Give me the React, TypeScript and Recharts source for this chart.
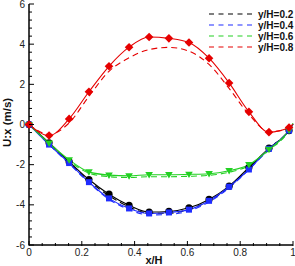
import { LineChart, Line, XAxis, YAxis } from "recharts";

// x/H stations (last one only carries the curves to the wall, no marker)
const X_POS = [0, 0.076, 0.152, 0.227, 0.303, 0.379, 0.455, 0.53, 0.606, 0.682, 0.758, 0.833, 0.909, 0.985, 1];
const MARKED = 14;

const H02_SOLID = [0, -0.91, -1.85, -2.74, -3.47, -4.02, -4.36, -4.33, -4.15, -3.73, -3.07, -2.14, -1.18, -0.3, 0.02];
const H02_DASH = [0, -0.95, -1.9, -2.8, -3.55, -4.1, -4.42, -4.42, -4.22, -3.8, -3.12, -2.18, -1.2, -0.28, 0.02];
const H04_SOLID = [0, -1.0, -1.92, -2.87, -3.68, -4.18, -4.43, -4.38, -4.24, -3.8, -3.1, -2.24, -1.21, -0.3, 0.02];
const H04_DASH = [0, -1.0, -1.95, -2.9, -3.72, -4.24, -4.5, -4.48, -4.3, -3.86, -3.15, -2.25, -1.22, -0.28, 0.02];
const H06_SOLID = [0, -0.93, -1.76, -2.36, -2.52, -2.56, -2.5, -2.5, -2.48, -2.45, -2.3, -2.0, -1.24, -0.28, 0.05];
const H06_DASH = [0, -0.95, -1.82, -2.42, -2.6, -2.64, -2.6, -2.6, -2.58, -2.53, -2.38, -2.05, -1.28, -0.3, 0.05];
const H08_SOLID = [0, -0.55, 0.28, 1.63, 2.9, 3.85, 4.36, 4.29, 4.08, 3.3, 2.07, 0.63, -0.38, -0.15, 0.02];
const H08_DASH = [0, -0.5, 0.08, 1.4, 2.65, 3.32, 3.73, 3.84, 3.65, 2.99, 1.8, 0.5, -0.35, -0.2, 0.02];

const LEGEND_NAMES = ["y/H=0.2", "y/H=0.4", "y/H=0.6", "y/H=0.8"];
const COLORS = ["#000000", "#1f2cff", "#22d022", "#e60000"];
const MARKERS = ["circle", "square", "triangle", "diamond"];

const X_LABELS = [0, 0.2, 0.4, 0.6, 0.8, 1];
const Y_LABELS = [-6, -4, -2, 0, 2, 4, 6];
const X_MINOR = Array.from({ length: 21 }, (_, i) => +(i * 0.05).toFixed(2));
const Y_MINOR = Array.from({ length: 31 }, (_, i) => +(-6 + i * 0.4).toFixed(2));

const FONT = "'Liberation Sans', Arial, sans-serif";
const TICK_GAP = 4;

const data = X_POS.map((x, i) => ({
  x,
  s0: H02_SOLID[i],
  d0: H02_DASH[i],
  s1: H04_SOLID[i],
  d1: H04_DASH[i],
  s2: H06_SOLID[i],
  d2: H06_DASH[i],
  s3: H08_SOLID[i],
  d3: H08_DASH[i],
}));

const isMajor = (list: number[], v: number) => list.some((l) => Math.abs(l - v) < 1e-6);

const renderYTick = (props: any) => {
  const { x, y, payload } = props;
  const v = payload.value as number;
  const major = isMajor(Y_LABELS, v);
  const ax = x + TICK_GAP;
  return (
    <g>
      <line x1={ax} x2={ax + (major ? 5 : 3)} y1={y} y2={y} stroke="#000" strokeWidth={1} />
      {major && (
        <text x={x} y={y} dy="0.355em" textAnchor="end" fontSize={10} fontFamily={FONT} fill="#222">
          {v}
        </text>
      )}
    </g>
  );
};

const renderXTick = (props: any) => {
  const { x, y, payload } = props;
  const v = payload.value as number;
  const major = isMajor(X_LABELS, v);
  const ay = y - TICK_GAP + 1;
  return (
    <g>
      <line x1={x} x2={x} y1={ay} y2={ay - (major ? 5 : 3)} stroke="#000" strokeWidth={1} />
      {major && (
        <text x={x} y={y} dy="0.71em" textAnchor="middle" fontSize={10} fontFamily={FONT} fill="#222">
          {v}
        </text>
      )}
    </g>
  );
};

const makeDot = (series: number) => (props: any) => {
  const { cx, cy, index } = props;
  const key = `m${series}-${index}`;
  if (index >= MARKED || cx == null || cy == null) return <g key={key} />;
  const c = COLORS[series];
  const shape = MARKERS[series];
  if (shape === "circle") return <circle key={key} cx={cx} cy={cy} r={3.6} fill={c} />;
  if (shape === "square") return <rect key={key} x={cx - 3} y={cy - 3} width={6} height={6} fill={c} />;
  if (shape === "triangle")
    return <polygon key={key} points={`${cx - 3.8},${cy - 2.6} ${cx + 3.8},${cy - 2.6} ${cx},${cy + 3.8}`} fill={c} />;
  return <polygon key={key} points={`${cx},${cy - 4.3} ${cx + 4.3},${cy} ${cx},${cy + 4.3} ${cx - 4.3},${cy}`} fill={c} />;
};

function Legend() {
  return (
    <svg width={295} height={60} style={{ position: "absolute", left: 0, top: 0 }}>
      {LEGEND_NAMES.map((name, i) => {
        const y = 14 + i * 11;
        return (
          <g key={name}>
            <line x1={209} x2={252} y1={y} y2={y} stroke={COLORS[i]} strokeWidth={1.2} strokeDasharray="5 4.5" />
            <text x={258} y={y} dy="0.36em" fontSize={10} fontWeight="bold" fontFamily={FONT} fill="#111">
              {name}
            </text>
          </g>
        );
      })}
    </svg>
  );
}

export default function App() {
  return (
    <div style={{ position: "absolute", left: 0, top: 0, width: 295, height: 266, background: "#fff" }}>
      <LineChart width={295} height={266} data={data} margin={{ top: 4, right: 2, left: 0, bottom: 0 }}>
        <XAxis
          dataKey="x"
          type="number"
          domain={[0, 1]}
          ticks={X_MINOR}
          interval={0}
          tickSize={0}
          tickMargin={TICK_GAP}
          tickLine={false}
          tick={renderXTick}
          height={21}
          axisLine={{ stroke: "#000", strokeWidth: 1.5 }}
          label={{
            value: "x/H",
            position: "insideBottom",
            offset: 2,
            dx: -7,
            fontSize: 11,
            fontWeight: "bold",
            fontFamily: FONT,
            fill: "#111",
          }}
        />
        <YAxis
          type="number"
          domain={[-6, 6]}
          ticks={Y_MINOR}
          interval={0}
          tickSize={0}
          tickMargin={TICK_GAP}
          tickLine={false}
          tick={renderYTick}
          width={29}
          axisLine={{ stroke: "#000", strokeWidth: 1.5 }}
          label={(p: any) => {
            const vb = p.viewBox || { x: 0, y: 4, width: 29, height: 241 };
            const cx = vb.x + 7;
            const cy = vb.y + vb.height / 2 - 2;
            return (
              <text
                x={cx}
                y={cy}
                transform={`rotate(-90 ${cx} ${cy})`}
                textAnchor="middle"
                dy="0.36em"
                fontSize={11.5}
                fontWeight="bold"
                fontFamily={FONT}
                fill="#111"
              >
                U:x (m/s)
              </text>
            );
          }}
        />
        {[0, 1, 2, 3].map((i) => (
          <Line
            key={`d${i}`}
            dataKey={`d${i}`}
            type="monotone"
            stroke={COLORS[i]}
            strokeWidth={1.1}
            strokeDasharray="6 4"
            dot={false}
            activeDot={false}
            isAnimationActive={false}
          />
        ))}
        {[0, 1, 2, 3].map((i) => (
          <Line
            key={`s${i}`}
            dataKey={`s${i}`}
            type="monotone"
            stroke={COLORS[i]}
            strokeWidth={1.1}
            dot={makeDot(i)}
            activeDot={false}
            isAnimationActive={false}
          />
        ))}
      </LineChart>
      <Legend />
    </div>
  );
}
